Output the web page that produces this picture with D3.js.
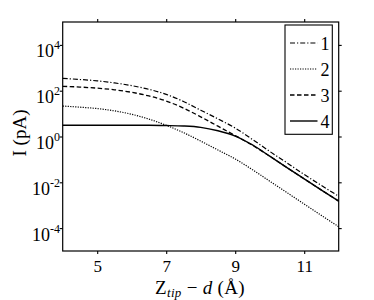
<!DOCTYPE html>
<html><head><meta charset="utf-8">
<script src="https://cdn.jsdelivr.net/npm/d3@7"></script>
<style>body{margin:0;background:#fff}svg{display:block}text{font-family:"Liberation Serif","Times New Roman",serif;fill:#000}</style>
</head><body>
<script>
// Data (log10 of current in pA)
const zValues = [4,4.5,5,5.5,6,6.5,7,7.5,8,8.5,9,9.5,10,10.5,11,11.5,12];
const series1 = [2.54,2.49,2.43,2.34,2.22,2.06,1.84,1.53,1.15,0.77,0.37,-0.13,-0.65,-1.15,-1.66,-2.14,-2.61];
const series2 = [1.33,1.28,1.22,1.12,0.97,0.76,0.49,0.17,-0.20,-0.59,-0.98,-1.45,-1.95,-2.45,-2.95,-3.45,-3.94];
const series3 = [2.19,2.16,2.11,2.04,1.93,1.77,1.55,1.24,0.86,0.45,0.04,-0.38,-0.86,-1.36,-1.85,-2.34,-2.82];
const series4 = [0.49,0.49,0.49,0.49,0.49,0.49,0.48,0.46,0.40,0.25,0.02,-0.37,-0.86,-1.36,-1.85,-2.34,-2.82];
const seriesNames = ["1","2","3","4"];
const xTicks = [5,7,9,11];
const yTickExps = [4,2,0,-2,-4];

const W=374,H=300;
const L=62.7,R=338.7,T=22,B=251;
const svg=d3.select("body").append("svg").attr("width",W).attr("height",H);
const x=d3.scaleLinear().domain([4,12]).range([L,R]);
const y=d3.scaleLog().domain([1e-5,1e5]).range([B,T]);

const styles=[
  {dash:"5,2,1.2,2",w:1.2},
  {dash:"1.2,1.3",w:1.2},
  {dash:"4.5,2.5",w:1.3},
  {dash:null,w:1.4}
];
const allSeries=[series1,series2,series3,series4];

const line=d3.line().x(d=>x(d[0])).y(d=>y(Math.pow(10,d[1]))).curve(d3.curveMonotoneX);
const g=svg.append("g");
allSeries.forEach((s,i)=>{
  const p=g.append("path").datum(zValues.map((z,j)=>[z,s[j]]))
    .attr("d",line).attr("fill","none").attr("stroke","#000")
    .attr("stroke-width",styles[i].w);
  if(styles[i].dash) p.attr("stroke-dasharray",styles[i].dash);
});

// frame
svg.append("rect").attr("x",L).attr("y",T).attr("width",R-L).attr("height",B-T)
  .attr("fill","none").attr("stroke","#000").attr("stroke-width",1.2);

// axes ticks
const ax=svg.append("g");
ax.append("g").attr("transform",`translate(0,${B})`).call(d3.axisBottom(x).tickValues(xTicks).tickSize(3).tickFormat(d3.format("d")))
  .call(a=>{a.select(".domain").remove();a.selectAll("text").attr("font-size",17).attr("dy","1.0em").attr("y",4);});
ax.append("g").attr("transform",`translate(0,${T})`).call(d3.axisTop(x).tickValues(xTicks).tickSize(3).tickFormat(""))
  .call(a=>a.select(".domain").remove());
ax.append("g").attr("transform",`translate(${R},0)`).call(d3.axisRight(y).tickValues(yTickExps.map(e=>Math.pow(10,e))).tickSize(3).tickFormat(""))
  .call(a=>a.select(".domain").remove());
ax.append("g").attr("transform",`translate(${L},0)`).call(d3.axisLeft(y).tickValues(yTickExps.map(e=>Math.pow(10,e))).tickSize(3).tickFormat(""))
  .call(a=>a.select(".domain").remove());
ax.selectAll("line").attr("stroke","#000").attr("stroke-width",1.1);

yTickExps.forEach(e=>{
  const t=svg.append("text").attr("x",60).attr("y",y(Math.pow(10,e))+12.5).attr("text-anchor","end").attr("font-size",18);
  t.append("tspan").text("10");
  t.append("tspan").attr("dy",-8).attr("font-size",12).text(String(e));
});

// axis labels
svg.append("text").attr("transform","translate(26,133) rotate(-90)").attr("text-anchor","middle").attr("font-size",19).text("I (pA)");
const xl=svg.append("text").attr("x",200).attr("y",294).attr("text-anchor","middle").attr("font-size",19).attr("letter-spacing",0.3);
xl.append("tspan").text("Z");
xl.append("tspan").attr("font-size",13).attr("font-style","italic").attr("dy",3).text("tip");
xl.append("tspan").attr("dy",-3).text(" \u2212 ");
xl.append("tspan").attr("font-style","italic").text("d");
xl.append("tspan").text(" (\u00C5)");

// legend
const lg=svg.append("g");
lg.append("rect").attr("x",285).attr("y",25).attr("width",47.3).attr("height",109.3).attr("fill","#fff").attr("stroke","#000").attr("stroke-width",1.1);
seriesNames.forEach((n,i)=>{
  const yy=43+i*26;
  const l=lg.append("line").attr("x1",290).attr("x2",317.5).attr("y1",yy).attr("y2",yy).attr("stroke","#000").attr("stroke-width",styles[i].w);
  if(styles[i].dash) l.attr("stroke-dasharray",styles[i].dash);
  lg.append("text").attr("x",320.5).attr("y",yy+6.5).attr("font-size",18).text(n);
});
</script>
</body></html>
